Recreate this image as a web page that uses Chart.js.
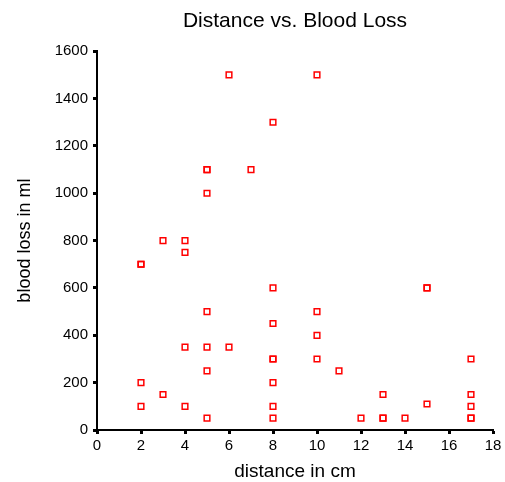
<!DOCTYPE html>
<html>
<head>
<meta charset="utf-8">
<script src="https://cdn.jsdelivr.net/npm/chart.js@4.4.1/dist/chart.umd.min.js"></script>
<style>
    html, body { margin: 0; padding: 0; background: #fff; }
</style>
</head>
<body>
<canvas id="scatter_chart" width="505" height="482"></canvas>
<script>
// Ölçüm verileri (mesafe cm, kan kaybı ml)
const distanceCm = [
    2, 2, 2, 2,
    3, 3,
    4, 4, 4, 4,
    5, 5, 5, 5, 5, 5, 5,
    6, 6,
    7,
    8, 8, 8, 8, 8, 8, 8, 8,
    10, 10, 10, 10,
    11,
    12,
    13, 13, 13,
    14,
    15, 15, 15,
    17, 17, 17, 17, 17
];
const bloodLossMl = [
    700, 700, 200, 100,
    800, 150,
    800, 750, 350, 100,
    1100, 1100, 1000, 500, 350, 250, 50,
    1500, 350,
    1100,
    1300, 600, 450, 300, 300, 200, 100, 50,
    1500, 500, 400, 300,
    250,
    50,
    150, 50, 50,
    50,
    600, 600, 110,
    300, 150, 100, 50, 50
];
const xTicks = [0, 2, 4, 6, 8, 10, 12, 14, 16, 18];
const yTicks = [0, 200, 400, 600, 800, 1000, 1200, 1400, 1600];

const FONT = '"Liberation Sans", Arial, Helvetica, sans-serif';

const points = distanceCm.map((d, i) => ({ x: d, y: bloodLossMl[i] }));

new Chart(document.getElementById('scatter_chart'), {
    type: 'scatter',
    data: {
        datasets: [{
            data: points,
            pointStyle: 'rect',
            pointRadius: 4,
            pointHoverRadius: 4,
            pointBorderWidth: 1.5,
            pointBorderColor: '#ff0000',
            pointBackgroundColor: 'rgba(255,255,255,0)'
        }]
    },
    options: {
        responsive: false,
        animation: false,
        layout: { padding: { left: 0, right: 12, top: 0, bottom: 0 } },
        plugins: {
            legend: { display: false },
            tooltip: { enabled: false },
            title: {
                display: true,
                fullSize: false, // başlığı grafik alanına ortala
                text: 'Distance vs. Blood Loss',
                color: '#000',
                font: { family: FONT, size: 21, weight: 'normal' },
                padding: { top: 9, bottom: 17 }
            }
        },
        scales: {
            x: {
                type: 'linear',
                min: 0,
                max: 18,
                afterBuildTicks: (scale) => { scale.ticks = xTicks.map(v => ({ value: v })); },
                afterFit: (scale) => { scale.height = 52; },
                ticks: {
                    color: '#000', font: { family: FONT, size: 15 }, padding: 3, maxRotation: 0,
                    callback: (v) => String(v)
                },
                grid: { drawOnChartArea: false, drawTicks: true, tickLength: 4, tickWidth: 3, tickColor: '#000' },
                border: { display: true, color: '#000', width: 2 },
                title: {
                    display: true,
                    text: 'distance in cm',
                    color: '#000',
                    font: { family: FONT, size: 19 },
                    padding: { top: 0, bottom: -1 }
                }
            },
            y: {
                type: 'linear',
                min: 0,
                max: 1600,
                afterBuildTicks: (scale) => { scale.ticks = yTicks.map(v => ({ value: v })); },
                afterFit: (scale) => { scale.width = 97; },
                ticks: {
                    color: '#000', font: { family: FONT, size: 15 }, padding: 5,
                    callback: (v) => String(v)
                },
                grid: { drawOnChartArea: false, drawTicks: true, tickLength: 4, tickWidth: 3, tickColor: '#000' },
                border: { display: true, color: '#000', width: 2 },
                title: {
                    display: true,
                    text: 'blood loss in ml',
                    color: '#000',
                    font: { family: FONT, size: 18 },
                    padding: { top: 14, bottom: 0 }
                }
            }
        }
    }
});
</script>
</body>
</html>
